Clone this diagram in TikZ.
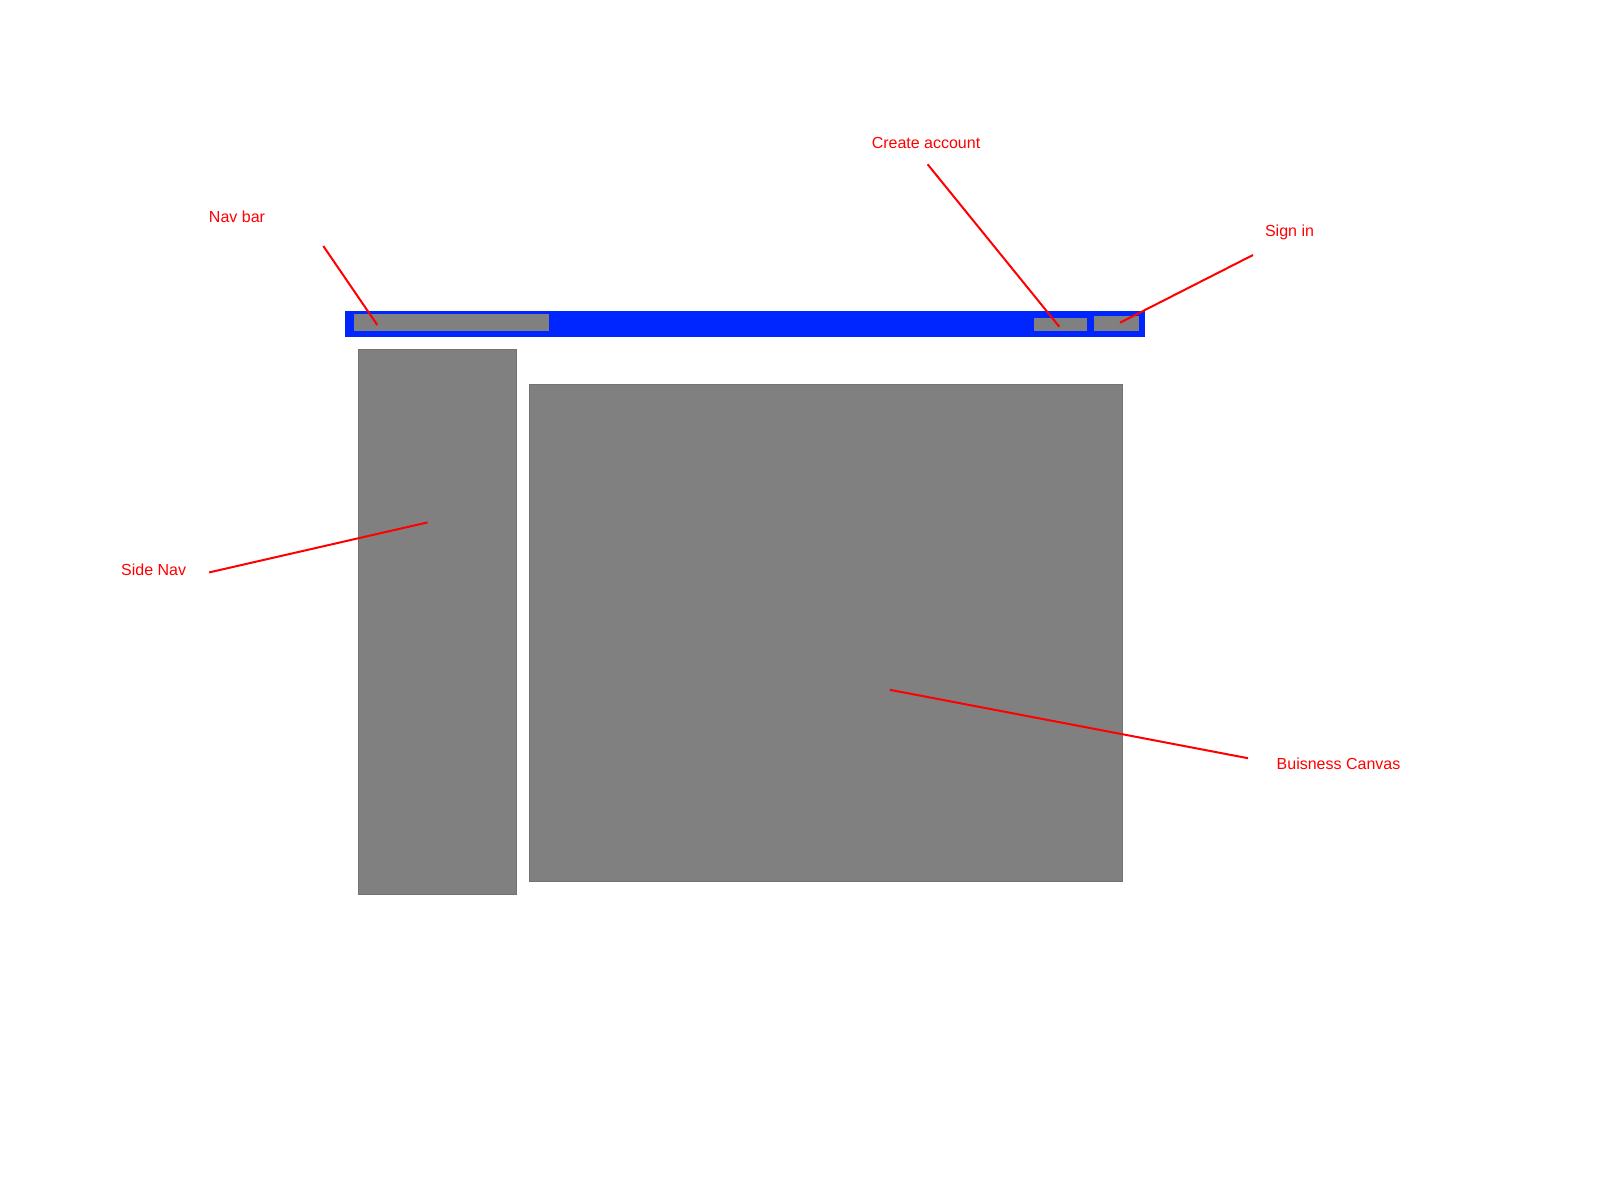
\documentclass[tikz,border=0pt]{standalone}
\usepackage{fontspec}
\setmainfont{Liberation Sans}
\definecolor{navblue}{RGB}{0,38,255}
\definecolor{boxgray}{RGB}{128,128,128}
\definecolor{lblred}{RGB}{255,0,0}
\begin{document}
\begin{tikzpicture}[x=1pt,y=-1pt,
  box/.style={fill=boxgray,draw=boxgray!90!black,line width=0.6pt},
  lbl/.style={text=lblred,font=\fontsize{16}{19}\selectfont,inner sep=0pt,anchor=center},
  pointer/.style={draw=lblred,line width=2pt}]
\useasboundingbox (0,0) rectangle (1600,1200);
% nav bar
\fill[navblue] (345,311) rectangle (1145,336.7);
\fill[boxgray] (354,313.5) rectangle (549,330.5);
\fill[boxgray] (1034,318) rectangle (1087,330.5);
\fill[boxgray] (1094,316) rectangle (1139,330.5);
% side nav and canvas
\draw[box] (358.2,349) rectangle (516.3,893.9);
\draw[box] (529.6,384.3) rectangle (1122.4,881.2);
% labels
\node[lbl] (navbar) at (237,217) {Nav bar};
\node[lbl] (create) at (926,143) {Create account};
\node[lbl] (signin) at (1289.5,232.5) {Sign in};
\node[lbl] (sidenav) at (153.6,569.8) {Side Nav};
\node[lbl] (canvas) at (1338.5,764) {Buisness Canvas};
% pointer ends
\coordinate (p1a) at (323.3,246);   \coordinate (p1b) at (377.3,325);
\coordinate (p2a) at (927.6,164.3); \coordinate (p2b) at (1059.3,326.7);
\coordinate (p3a) at (1253,255);    \coordinate (p3b) at (1120,322.7);
\coordinate (p4a) at (209.2,572.4); \coordinate (p4b) at (427.6,522.4);
\coordinate (p5a) at (889.8,689.8); \coordinate (p5b) at (1248,758.2);
\draw[pointer] (p1a) -- (p1b);
\draw[pointer] (p2a) -- (p2b);
\draw[pointer] (p3a) -- (p3b);
\draw[pointer] (p4a) -- (p4b);
\draw[pointer] (p5a) -- (p5b);
\end{tikzpicture}
\end{document}
